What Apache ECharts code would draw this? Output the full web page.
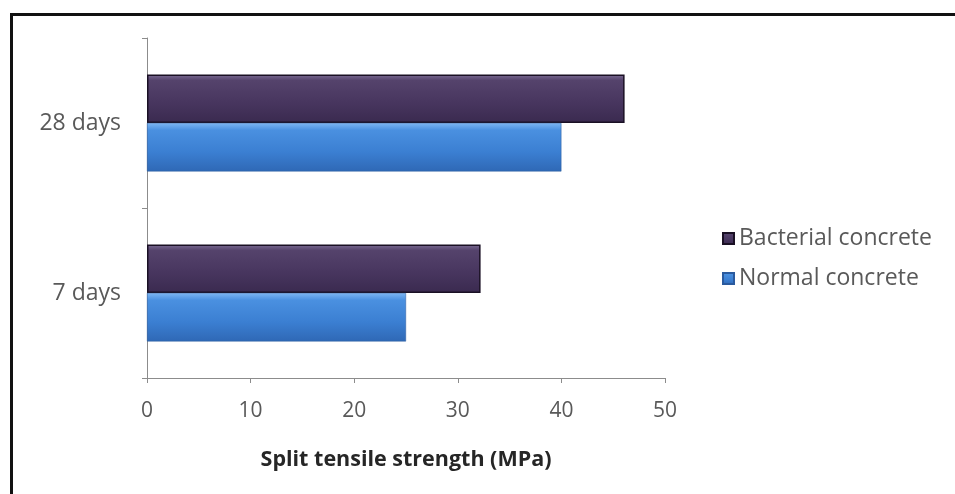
<!DOCTYPE html>
<html>
<head>
<meta charset="utf-8">
<title>Split tensile strength</title>
<script src="https://cdn.jsdelivr.net/npm/echarts@6/dist/echarts.min.js"></script>
<style>
  html, body { margin: 0; padding: 0; background: #fff; }
  #chart { width: 955px; height: 494px; }
</style>
</head>
<body>
<div id="chart"></div>
<script>
// Curing ages (bottom to top on the category axis)
const ages = ['7 days', '28 days'];
// Split tensile strength, MPa
const bacterialConcrete = [32.2, 46.1];
const normalConcrete = [25, 40];
// Value axis ticks
const strengthTicks = [0, 10, 20, 30, 40, 50];

const FONT = '"Open Sans", Lato, sans-serif';
const TEXT = '#595959';

const purpleFill = new echarts.graphic.LinearGradient(0, 0, 0, 1, [
  { offset: 0, color: '#7a6b92' },
  { offset: 0.12, color: '#55436c' },
  { offset: 0.6, color: '#47355e' },
  { offset: 1, color: '#3a2a4f' }
]);
const blueFill = new echarts.graphic.LinearGradient(0, 0, 0, 1, [
  { offset: 0, color: '#7db6f2' },
  { offset: 0.15, color: '#4a90e0' },
  { offset: 0.6, color: '#3b7fd2' },
  { offset: 1, color: '#2f68b5' }
]);

const chart = echarts.init(document.getElementById('chart'), null, { renderer: 'canvas' });
chart.setOption({
  animation: false,
  backgroundColor: '#fff',
  graphic: [{
    type: 'rect',
    shape: { x: 11.5, y: 14.5, width: 1000, height: 600 },
    style: { fill: 'none', stroke: '#111', lineWidth: 3 },
    silent: true
  }],
  grid: { left: 147, right: 290, top: 38, bottom: 116, containLabel: false },
  legend: {
    orient: 'vertical',
    left: 717,
    top: 222,
    itemWidth: 11,
    itemHeight: 11,
    itemGap: 17,
    icon: 'rect',
    data: ['Bacterial concrete', 'Normal concrete'],
    textStyle: { fontFamily: FONT, fontSize: 23, color: TEXT, padding: [0, 0, 0, 0] }
  },
  xAxis: {
    type: 'value',
    min: strengthTicks[0],
    max: strengthTicks[strengthTicks.length - 1],
    interval: strengthTicks[1] - strengthTicks[0],
    name: 'Split tensile strength (MPa)',
    nameLocation: 'middle',
    nameGap: 71,
    nameTextStyle: { fontFamily: FONT, fontSize: 21.5, fontWeight: 'bold', color: '#262626', verticalAlign: 'top' },
    axisLine: { show: true, lineStyle: { color: '#8c8c8c', width: 1 } },
    axisTick: { show: true, length: 5, lineStyle: { color: '#8c8c8c' } },
    axisLabel: { fontFamily: FONT, fontSize: 21, color: TEXT, margin: 23 },
    splitLine: { show: false }
  },
  yAxis: {
    type: 'category',
    data: ages,
    axisLine: { show: true, lineStyle: { color: '#8c8c8c', width: 1 } },
    axisTick: { show: true, length: 5, lineStyle: { color: '#8c8c8c' } },
    axisLabel: { fontFamily: FONT, fontSize: 23, color: TEXT, margin: 26 }
  },
  series: [
    {
      name: 'Bacterial concrete',
      type: 'bar',
      data: bacterialConcrete,
      barGap: '0%',
      barCategoryGap: '43%',
      itemStyle: { color: purpleFill, borderColor: '#1a1024', borderWidth: 1.5 }
    },
    {
      name: 'Normal concrete',
      type: 'bar',
      data: normalConcrete,
      barGap: '0%',
      barCategoryGap: '43%',
      itemStyle: { color: blueFill, borderColor: '#2a5a9e', borderWidth: 0.5 }
    }
  ]
});
</script>
</body>
</html>
